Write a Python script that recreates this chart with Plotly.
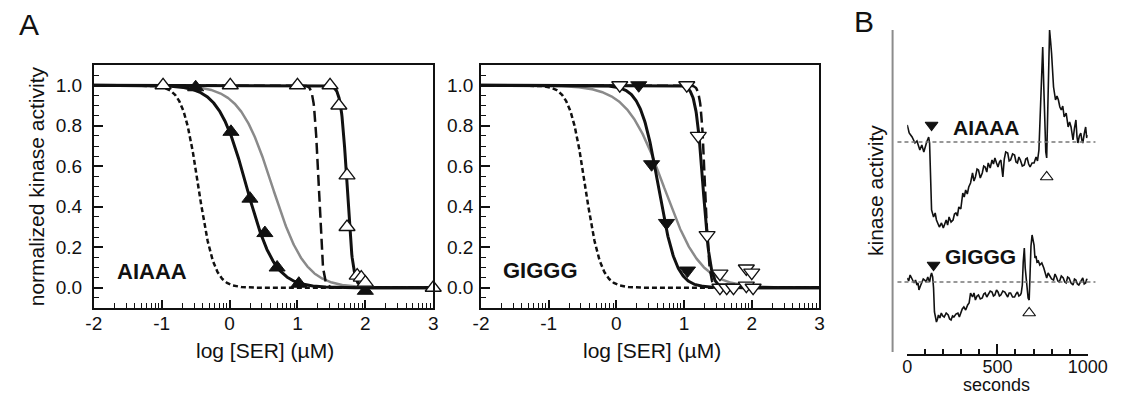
import numpy as np
import plotly.graph_objects as go

W, H = 1133, 397
FONT = "Liberation Sans, Arial, sans-serif"

# ---------------- Panel A data (log10 [SER] in uM, normalized kinase activity) -------------
aiaaa_filled_logx = [-0.5, 0.02, 0.3, 0.52, 0.7, 1.02, 2.0]
aiaaa_filled_act = [0.99, 0.77, 0.44, 0.27, 0.10, 0.02, -0.015]
aiaaa_open_logx = [-0.98, 0.01, 1.0, 1.48, 1.61, 1.73, 1.73, 1.88, 1.94, 2.0, 3.0]
aiaaa_open_act = [1.0, 1.0, 1.0, 1.0, 0.90, 0.555, 0.30, 0.06, 0.05, 0.025, 0.0]

giggg_filled_logx = [0.33, 0.52, 0.74, 1.05]
giggg_filled_act = [1.0, 0.61, 0.32, 0.085]
giggg_open_logx = [0.05, 1.04, 1.21, 1.34, 1.53, 1.53, 1.63, 1.73, 1.92, 2.0, 1.92, 2.02]
giggg_open_act = [1.0, 1.0, 0.75, 0.26, 0.07, 0.0, 0.0, 0.0, 0.095, 0.075, 0.01, 0.0]

# Hill-fit parameters: (log IC50, Hill slope)
fit_ref_dotted = (-0.46, 3.8)
fit_ref_dashed = (1.31, 14.0)
aiaaa_fit_filled = (0.25, 2.1)
aiaaa_fit_open = (1.73, 10.0)
aiaaa_fit_gray = (0.63, 1.8)
giggg_fit_filled = (0.62, 3.3)
giggg_fit_open = (1.28, 8.0)
giggg_fit_gray = (0.70, 1.6)

x_ticks = [-2, -1, 0, 1, 2, 3]
y_ticks = [0.0, 0.2, 0.4, 0.6, 0.8, 1.0]

# ---------------- Panel B data (time in s, kinase activity, arbitrary units) ---------------
aiaaa_t = [0, 11, 27, 43, 54, 70, 81, 92, 108, 119, 124, 130, 135, 146, 155, 162, 170, 178,
           190, 200, 208, 216, 224, 232, 243, 254, 262, 270, 278, 286, 297, 308, 316, 324,
           333, 341, 351, 362, 370, 378, 387, 395, 405, 416, 424, 432, 441, 449, 460, 470,
           478, 486, 495, 503, 511, 519, 530, 538, 546, 557, 565, 573, 584, 595, 603, 611,
           619, 627, 638, 649, 657, 665, 673, 681, 692, 703, 714, 722, 730, 735, 743, 751,
           757, 762, 768, 773, 778, 784, 789, 795, 800, 811, 822, 830, 838, 846, 854, 862,
           870, 881, 892, 900, 908, 914, 919, 927, 935, 941, 946, 954, 962, 968, 973, 981,
           989, 995, 1000]
aiaaa_act = [22.7, 21.9, 21.5, 20.9, 21.1, 20.2, 20.7, 20.0, 21.0, 21.5, 20.9, 17.7, 14.2,
             13.5, 13.9, 13.2, 12.8, 12.5, 12.9, 12.4, 12.8, 13.2, 12.7, 13.5, 13.0, 13.2,
             13.8, 13.9, 13.6, 14.5, 14.3, 15.9, 15.5, 16.2, 15.8, 16.5, 16.9, 17.9, 17.1,
             17.5, 18.3, 18.2, 17.4, 17.9, 18.6, 18.5, 18.0, 18.9, 18.4, 19.2, 18.8, 19.4,
             18.9, 18.5, 19.0, 19.2, 17.5, 19.3, 20.0, 19.9, 19.1, 19.2, 19.8, 19.7, 19.0,
             18.9, 19.5, 19.2, 18.6, 18.7, 19.3, 19.4, 18.8, 18.5, 18.9, 18.9, 19.5, 19.1,
             20.2, 23.2, 27.5, 30.5, 26.5, 22.2, 20.0, 19.4, 23.2, 29.9, 32.2, 31.0, 29.9,
             26.5, 25.2, 25.6, 25.2, 24.5, 24.2, 24.6, 23.5, 23.9, 22.5, 23.0, 22.5, 21.8,
             21.2, 22.4, 23.2, 21.5, 20.9, 21.6, 21.9, 21.2, 20.9, 21.8, 22.5, 21.4, 21.7]

giggg_t = [0, 8, 16, 27, 38, 46, 54, 60, 65, 73, 81, 89, 97, 105, 114, 119, 124, 130, 135,
           141, 146, 151, 157, 162, 168, 173, 181, 189, 197, 205, 216, 227, 235, 243, 251,
           259, 270, 281, 289, 297, 305, 314, 324, 335, 343, 351, 357, 362, 370, 378, 387,
           395, 405, 416, 424, 432, 441, 449, 460, 470, 478, 486, 495, 503, 511, 519, 530,
           541, 549, 557, 565, 573, 584, 595, 603, 611, 619, 627, 632, 638, 643, 649, 654,
           660, 665, 670, 676, 681, 686, 692, 697, 703, 708, 714, 719, 727, 735, 746, 757,
           765, 773, 781, 789, 800, 811, 819, 827, 835, 843, 854, 865, 873, 881, 889, 897,
           908, 919, 927, 935, 943, 951, 962, 973, 981, 989, 995, 1000]
giggg_act = [7.4, 7.1, 7.7, 7.3, 6.9, 7.2, 6.7, 6.9, 6.2, 6.6, 6.9, 7.3, 7.2, 7.0, 7.5, 7.1,
             7.0, 7.6, 7.9, 7.5, 6.4, 4.0, 3.4, 3.0, 3.3, 3.7, 3.4, 3.9, 3.6, 3.5, 3.9, 3.7,
             3.3, 3.2, 3.6, 3.5, 3.8, 3.9, 3.5, 4.0, 4.3, 4.5, 4.2, 4.7, 4.9, 5.9, 5.6, 5.5,
             5.9, 5.2, 5.6, 5.7, 5.3, 5.4, 5.8, 5.9, 5.5, 5.7, 6.1, 6.0, 5.6, 5.7, 6.2, 6.0,
             5.6, 5.7, 6.1, 6.0, 5.7, 5.5, 5.9, 5.9, 5.5, 5.5, 5.8, 6.0, 5.6, 5.7, 5.9, 6.7,
             9.0, 10.4, 8.4, 7.0, 6.0, 5.4, 5.2, 8.7, 10.6, 11.7, 11.3, 10.7, 9.4, 9.6, 9.0,
             9.1, 8.7, 8.9, 8.4, 8.0, 7.4, 7.9, 7.7, 7.3, 7.2, 7.8, 7.5, 7.1, 7.0, 7.6, 7.4,
             7.0, 6.9, 7.5, 7.4, 6.9, 6.7, 7.3, 7.2, 6.8, 6.7, 7.1, 7.4, 6.8, 6.9, 7.3, 7.2]

aiaaa_baseline = 21.0
giggg_baseline = 7.0
aiaaa_drug_on = (135, 22.7)     # filled arrowhead (time, level)
aiaaa_drug_off = (773, 17.5)    # open arrowhead
giggg_drug_on = (146, 8.7)
giggg_drug_off = (676, 3.9)
b_ticks = [0, 500, 1000]
b_minor = [100, 200, 300, 400, 600, 700, 800, 900]


def hill(x, p):
    x50, h = p
    return 1.0 / (1.0 + 10 ** ((x - x50) * h))


def px(x):
    return x / W


def py(y):
    return 1 - y / H


xs = np.linspace(-2, 3, 801)
fig = go.Figure()

BLACK = "#111111"
GRAY = "#8a8a8a"


def add_panel(xa, ya, fits, filled, opened, sym):
    gray, fil, ope = fits
    fig.add_trace(go.Scatter(x=xs, y=hill(xs, gray), mode="lines", xaxis=xa, yaxis=ya,
                             line=dict(color=GRAY, width=2.5), hoverinfo="skip"))
    fig.add_trace(go.Scatter(x=xs, y=hill(xs, fit_ref_dotted), mode="lines", xaxis=xa, yaxis=ya,
                             line=dict(color=BLACK, width=2.5, dash="5px,3px"), hoverinfo="skip"))
    fig.add_trace(go.Scatter(x=xs, y=hill(xs, fit_ref_dashed), mode="lines", xaxis=xa, yaxis=ya,
                             line=dict(color=BLACK, width=2.5, dash="11px,5px"), hoverinfo="skip"))
    fig.add_trace(go.Scatter(x=xs, y=hill(xs, fil), mode="lines", xaxis=xa, yaxis=ya,
                             line=dict(color=BLACK, width=3), hoverinfo="skip"))
    fig.add_trace(go.Scatter(x=xs, y=hill(xs, ope), mode="lines", xaxis=xa, yaxis=ya,
                             line=dict(color=BLACK, width=3), hoverinfo="skip"))
    fig.add_trace(go.Scatter(x=filled[0], y=filled[1], mode="markers", xaxis=xa, yaxis=ya,
                             cliponaxis=False,
                             marker=dict(symbol=sym, size=14, color=BLACK,
                                         line=dict(color=BLACK, width=1))))
    fig.add_trace(go.Scatter(x=opened[0], y=opened[1], mode="markers", xaxis=xa, yaxis=ya,
                             cliponaxis=False,
                             marker=dict(symbol=sym, size=14, color="white",
                                         line=dict(color=BLACK, width=1.3))))


add_panel("x", "y", (aiaaa_fit_gray, aiaaa_fit_filled, aiaaa_fit_open),
          (aiaaa_filled_logx, aiaaa_filled_act), (aiaaa_open_logx, aiaaa_open_act), "triangle-up")
add_panel("x2", "y2", (giggg_fit_gray, giggg_fit_filled, giggg_fit_open),
          (giggg_filled_logx, giggg_filled_act), (giggg_open_logx, giggg_open_act), "triangle-down")

# Panel B traces
for t, a in ((aiaaa_t, aiaaa_act), (giggg_t, giggg_act)):
    fig.add_trace(go.Scatter(x=t, y=a, mode="lines", xaxis="x3", yaxis="y3",
                             line=dict(color=BLACK, width=1.6), hoverinfo="skip"))
for (tt, aa), sym, fill in ((aiaaa_drug_on, "triangle-down", BLACK),
                            (giggg_drug_on, "triangle-down", BLACK),
                            (aiaaa_drug_off, "triangle-up", "white"),
                            (giggg_drug_off, "triangle-up", "white")):
    fig.add_trace(go.Scatter(x=[tt], y=[aa], mode="markers", xaxis="x3", yaxis="y3",
                             cliponaxis=False,
                             marker=dict(symbol=sym, size=11, color=fill,
                                         line=dict(color=BLACK, width=1.2))))

minor_log = [n + np.log10(k) for n in range(-2, 3) for k in range(2, 10)]

ax_common = dict(range=[-2, 3], tickvals=x_ticks, ticktext=[str(v) for v in x_ticks],
                 ticks="inside", ticklen=8, tickwidth=1.5, tickcolor=BLACK,
                 showline=True, linecolor=BLACK, linewidth=1.8, mirror=True,
                 showgrid=False, zeroline=False,
                 tickfont=dict(family=FONT, size=19, color=BLACK), ticklabelstandoff=-3,
                 minor=dict(tickvals=minor_log, ticks="inside", ticklen=5, tickwidth=1.3,
                            tickcolor=BLACK, showgrid=False))
ay_common = dict(range=[-0.1, 1.1], tickvals=y_ticks, ticktext=[f"{v:.1f}" for v in y_ticks],
                 ticks="inside", ticklen=9, tickwidth=1.5, tickcolor=BLACK,
                 showline=True, linecolor=BLACK, linewidth=1.8, mirror=True,
                 showgrid=False, zeroline=False,
                 tickfont=dict(family=FONT, size=19, color=BLACK),
                 minor=dict(dtick=0.05, tick0=0, ticks="inside", ticklen=5, tickwidth=1.3,
                            tickcolor=BLACK, showgrid=False))

fig.update_layout(
    width=W, height=H, autosize=False, margin=dict(l=0, r=0, t=0, b=0),
    paper_bgcolor="white", plot_bgcolor="rgba(0,0,0,0)", showlegend=False,
    xaxis=dict(domain=[px(88), px(436)], anchor="y", **ax_common),
    yaxis=dict(domain=[py(308), py(65)], anchor="x", ticklabelstandoff=6, **ay_common),
    xaxis2=dict(domain=[px(485), px(832)], anchor="y2", **ax_common),
    yaxis2=dict(domain=[py(308), py(65)], anchor="x2", ticklabelstandoff=2, **ay_common),
    xaxis3=dict(domain=[px(922), px(1107)], anchor="y3", range=[0, 1000],
                tickvals=b_ticks, ticktext=[str(v) for v in b_ticks],
                ticks="inside", ticklen=10, tickwidth=1.8, tickcolor=BLACK,
                showline=True, linecolor=BLACK, linewidth=2, showgrid=False, zeroline=False,
                tickfont=dict(family=FONT, size=18, color=BLACK), ticklabelstandoff=-5,
                minor=dict(tickvals=b_minor, ticks="inside", ticklen=5, tickwidth=1.5,
                           tickcolor=BLACK, showgrid=False)),
    yaxis3=dict(domain=[py(354), py(12)], anchor="x3", range=[-0.2, 34],
                visible=False, showgrid=False, zeroline=False),
)

shapes = [
    dict(type="line", xref="paper", yref="paper", x0=px(907), x1=px(907), y0=py(352), y1=py(30),
         line=dict(color="#8c8c8c", width=2)),
    dict(type="line", xref="paper", yref="y3", x0=px(912), x1=px(1115),
         y0=aiaaa_baseline, y1=aiaaa_baseline, line=dict(color="#777777", width=1.5, dash="4px,3px")),
    dict(type="line", xref="paper", yref="y3", x0=px(912), x1=px(1115),
         y0=giggg_baseline, y1=giggg_baseline, line=dict(color="#777777", width=1.5, dash="4px,3px")),
]
fig.update_layout(shapes=shapes)


def ann(text, x, y, size, bold=False, angle=0):
    return dict(text=f"<b>{text}</b>" if bold else text, x=px(x), y=py(y), xref="paper",
                yref="paper", showarrow=False, xanchor="center", yanchor="middle",
                textangle=angle, font=dict(family=FONT, size=size, color=BLACK))


fig.update_layout(annotations=[
    ann("A", 22, 24, 30),
    ann("B", 878, 22, 30),
    ann("normalized kinase activity", 29, 186, 21, angle=-90),
    ann("log [SER] (µM)", 263, 350, 21),
    ann("log [SER] (µM)", 660, 350, 21),
    ann("AIAAA", 148, 271, 22, bold=True),
    ann("GIGGG", 546, 270, 22, bold=True),
    ann("kinase activity", 890, 191, 21, angle=-90),
    ann("seconds", 1014, 385, 18),
    ann("AIAAA", 1003, 127, 21, bold=True),
    ann("GIGGG", 997, 256, 21, bold=True),
])

fig.write_html("out.html",
               config={"displayModeBar": False, "responsive": False},
               post_script="document.body.style.margin='0';"
                           "document.body.style.overflow='hidden';")
